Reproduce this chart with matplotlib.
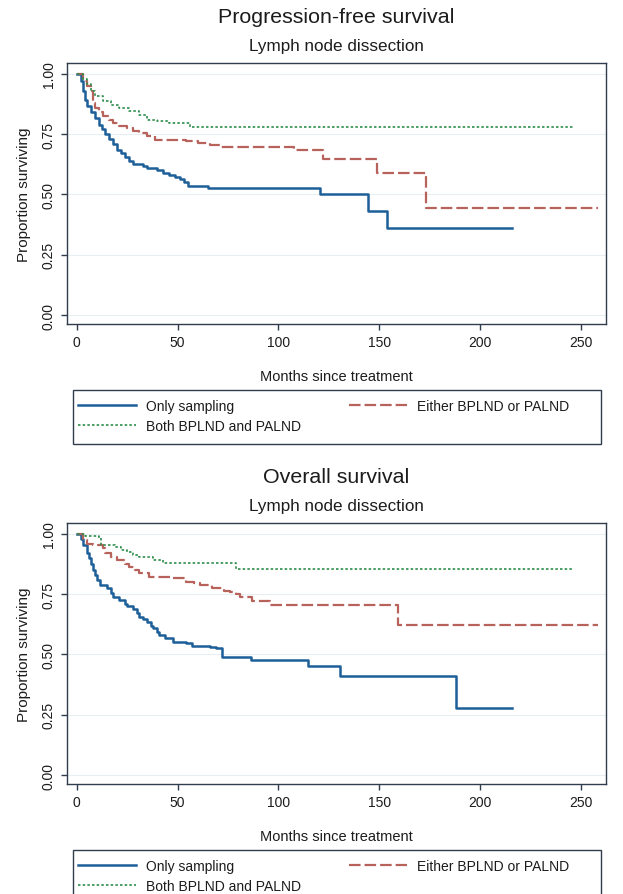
#!/usr/bin/env python3
"""
Kaplan-Meier curves by lymph node dissection group:
progression-free survival (top) and overall survival (bottom).
"""

import matplotlib
matplotlib.use('Agg')
import matplotlib.pyplot as plt
from matplotlib.patches import Rectangle
from matplotlib.lines import Line2D

# Step-function estimates (months, proportion)
pfs_sampling_t = [0, 2, 3, 4, 5, 7, 9, 11, 12.5, 14, 16, 18, 20, 22, 24, 26, 28, 33, 35, 40,
                  43, 46, 49, 51, 53, 55, 65, 120.7, 144.7, 153.8, 215.8]
pfs_sampling_s = [1.0, 0.97, 0.93, 0.89, 0.865, 0.84, 0.815, 0.79, 0.77, 0.75, 0.73, 0.71, 0.685,
                  0.67, 0.655, 0.64, 0.625, 0.617, 0.61, 0.60, 0.59, 0.582, 0.573, 0.565, 0.553,
                  0.537, 0.528, 0.50, 0.431, 0.362, 0.362]

pfs_either_t = [0, 3, 5, 7, 8, 9, 11, 13, 16, 18, 21, 25, 28, 31, 35, 39, 54, 60, 66, 71,
                108, 122, 149, 173, 258.4]
pfs_either_s = [1.0, 0.97, 0.95, 0.93, 0.88, 0.858, 0.84, 0.824, 0.81, 0.796, 0.785, 0.775,
                0.765, 0.755, 0.741, 0.727, 0.72, 0.712, 0.707, 0.697, 0.683, 0.647, 0.59,
                0.445, 0.445]

pfs_both_t = [0, 3, 5, 7, 9, 13, 17, 21, 26, 31, 35, 40, 46, 56, 246]
pfs_both_s = [1.0, 0.98, 0.96, 0.93, 0.91, 0.886, 0.87, 0.858, 0.845, 0.83, 0.81, 0.803,
              0.796, 0.778, 0.778]

os_sampling_t = [0, 2, 3, 5, 6, 7, 8, 9, 10, 11.5, 15, 17, 18, 21, 24, 25, 28, 30, 31, 33,
                 35, 37, 38, 40, 41, 44, 48, 54, 57, 66, 69, 72, 86.6, 114.5, 130.6, 188, 215.8]
os_sampling_s = [1.0, 0.98, 0.953, 0.92, 0.9, 0.875, 0.85, 0.83, 0.809, 0.788, 0.774, 0.755,
                 0.74, 0.726, 0.71, 0.701, 0.688, 0.67, 0.657, 0.645, 0.636, 0.62, 0.609,
                 0.595, 0.581, 0.568, 0.55, 0.547, 0.536, 0.53, 0.526, 0.489, 0.478, 0.453,
                 0.412, 0.278, 0.278]

os_either_t = [0, 3, 5, 8, 13, 14, 17, 20, 24, 26, 29, 31, 36, 48, 54, 58, 61, 67, 73, 76,
               79, 81, 87, 96, 159.5, 258.4]
os_either_s = [1.0, 0.975, 0.96, 0.953, 0.94, 0.92, 0.905, 0.891, 0.875, 0.864, 0.85, 0.836,
               0.822, 0.816, 0.802, 0.795, 0.788, 0.774, 0.765, 0.76, 0.75, 0.737, 0.723,
               0.707, 0.621, 0.621]

os_both_t = [0, 4, 11, 12, 19, 22, 25, 28, 31, 38, 43, 79, 246]
os_both_s = [1.0, 0.99, 0.981, 0.953, 0.945, 0.935, 0.925, 0.912, 0.905, 0.891, 0.878,
             0.854, 0.854]

group_labels = ['Only sampling', 'Either BPLND or PALND', 'Both BPLND and PALND']
panel_titles = ['Progression-free survival', 'Overall survival']
subtitle = 'Lymph node dissection'
x_ticks = [0, 50, 100, 150, 200, 250]
y_ticks = [0.0, 0.25, 0.5, 0.75, 1.0]

W, H = 623, 895
BLUE = '#1d5f98'
RED = '#b8625c'
GREEN = '#2e8d4c'
FRAME = '#2f3d4c'
TEXT = '#1c1c1c'

plt.rcParams['font.family'] = ['Liberation Sans', 'DejaVu Sans']


def fx(px):
    return px / W


def fy(py):
    return 1 - py / H


def draw_panel(fig, off, title, curves):
    """One Stata-style KM panel; off is the vertical pixel offset of the panel."""
    ax = fig.add_axes([fx(67), fy(325 + off), fx(606) - fx(67), (325 - 64) / H])

    styles = [dict(color=BLUE, lw=1.8, linestyle='-'),
              dict(color=RED, lw=1.6, linestyle=(0, (5.2, 1.8))),
              dict(color=GREEN, lw=1.2, linestyle=(0, (1.5, 1.3)))]
    for (t, s), st in zip(curves, styles):
        ax.step(t, s, where='post', **st)

    ax.set_xlim(-4.8, 262.5)
    ax.set_ylim(-0.037, 1.045)
    ax.set_xticks(x_ticks)
    ax.set_yticks(y_ticks)
    ax.set_yticklabels([f'{v:.2f}' for v in y_ticks], rotation=90, va='center')
    ax.tick_params(axis='both', direction='out', length=4, width=1, colors=FRAME,
                   labelcolor=TEXT, labelsize=10)
    ax.tick_params(axis='y', pad=4)
    ax.tick_params(axis='x', pad=4)
    ax.grid(axis='y', color='#e8eef2', lw=0.8)
    ax.set_axisbelow(True)
    for sp in ax.spines.values():
        sp.set_color(FRAME)
        sp.set_linewidth(1.0)

    ax.set_xlabel('Months since treatment', fontsize=10.5, color=TEXT, labelpad=14)
    ax.set_ylabel('Proportion surviving', fontsize=11, color=TEXT, labelpad=8)

    # titles
    fig.text(fx(336.5), fy(22.7 + off), title, ha='center', va='baseline',
             fontsize=15.4, color=TEXT)
    fig.text(fx(336.5), fy(50.7 + off), subtitle, ha='center', va='baseline',
             fontsize=12.3, color=TEXT)

    # legend: Stata fills row-wise, matplotlib column-wise
    handles = [Line2D([], [], **styles[0]), Line2D([], [], **styles[2]),
               Line2D([], [], **styles[1])]
    labels = [group_labels[0], group_labels[2], group_labels[1]]
    fig.legend(handles, labels, ncol=2, loc='upper left',
               bbox_to_anchor=(fx(78), fy(400 + off)), frameon=False,
               borderpad=0, borderaxespad=0, fontsize=10, handlelength=4.2,
               handletextpad=0.7, columnspacing=3.45, labelspacing=0.45,
               labelcolor=TEXT)
    fig.patches.append(Rectangle((fx(73), fy(445 + off)), fx(601) - fx(73), 54 / H,
                                 transform=fig.transFigure, fill=False,
                                 edgecolor=FRAME, lw=1.0))
    return ax


fig = plt.figure(figsize=(W / 100, H / 100), dpi=100)
fig.patch.set_facecolor('white')

draw_panel(fig, 0, panel_titles[0],
           [(pfs_sampling_t, pfs_sampling_s), (pfs_either_t, pfs_either_s),
            (pfs_both_t, pfs_both_s)])
draw_panel(fig, 460, panel_titles[1],
           [(os_sampling_t, os_sampling_s), (os_either_t, os_either_s),
            (os_both_t, os_both_s)])

fig.savefig('out.png', dpi=100)
